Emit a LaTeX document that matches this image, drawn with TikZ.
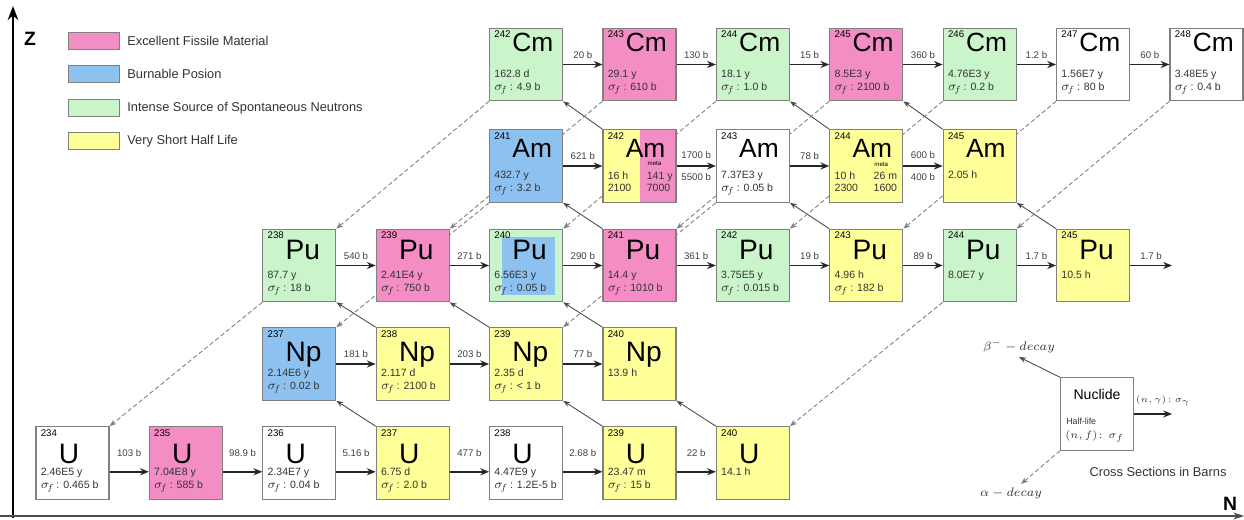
\documentclass[tikz,border=0pt]{standalone}
\usepackage{amsmath}
\usepackage{fontspec}
\setmainfont{Liberation Sans}
\usepackage{xcolor}
\usetikzlibrary{arrows.meta}

\definecolor{fissile}{RGB}{243,141,196}
\definecolor{poison}{RGB}{141,193,240}
\definecolor{spont}{RGB}{202,245,202}
\definecolor{shortlife}{RGB}{255,255,153}
\definecolor{boxedge}{RGB}{128,128,128}

\pgfdeclarelayer{background}
\pgfsetlayers{background,main}

\newcommand{\sigf}[1]{{\fontsize{7.5}{8}\selectfont$\sigma_{\!f}$}\,: #1 b}

\begin{document}
\begin{tikzpicture}[x=0.02cm, y=-0.02cm, >=Stealth,
  nuc/.style={draw=boxedge, line width=0.6pt, minimum width=1.46cm, minimum height=1.45cm, inner sep=0pt},
  fisbox/.style={fill=fissile}, poibox/.style={fill=poison}, spobox/.style={fill=spont},
  shlbox/.style={fill=shortlife}, plainbox/.style={fill=white},
  mixbox/.style={fill=spont, path picture={\fill[poison] ([shift={(12,8)}]path picture bounding box.north west) rectangle ([shift={(-8,-7)}]path picture bounding box.south east);}},
  ngamma/.style={-{Stealth[length=5pt,width=4pt]}, line width=1pt, black!85},
  betadecay/.style={-{Stealth[length=4pt,width=3pt]}, line width=0.5pt, black!70},
  alphadecay/.style={betadecay, gray, dash pattern=on 2.5pt off 1.5pt},
  xs/.style={font=\fontsize{5.5}{6}\selectfont, text=black!75, inner sep=1pt},
  massno/.style={anchor=north west, font=\fontsize{5.5}{6}\selectfont, inner sep=0pt},
  elem/.style={anchor=base west, inner sep=0pt},
  info/.style={anchor=base west, font=\fontsize{6}{7}\selectfont, text=black!80, inner sep=0pt},
  keymath/.style={font=\fontsize{7}{8}\selectfont, text=black!80, inner sep=0pt},
  legendtxt/.style={anchor=west, font=\fontsize{7.3}{8}\selectfont, text=black!80, inner sep=0pt}]

  \useasboundingbox (0,0) rectangle (1244,520);

  % Axes
  \coordinate (origin) at (13,518);
  \coordinate (ztip) at (13,6);
  \coordinate (nstart) at (0,516);
  \coordinate (ntip) at (1244,516);
  \draw[line width=1.5pt, -{Stealth[length=8pt,width=6pt]}] (origin) -- (ztip);
  \draw[line width=0.6pt, black!70, -{Stealth[length=6pt,width=4pt]}] (nstart) -- (ntip);
  \node[font=\bfseries\fontsize{11}{11}\selectfont] (zlab) at (30,39) {Z};
  \node[font=\bfseries\fontsize{11}{11}\selectfont] (nlab) at (1230,504) {N};

  % Legend
  \foreach \i/\c/\t in {0/fissile/Excellent Fissile Material, 1/poison/Burnable Posion,
                        2/spont/Intense Source of Spontaneous Neutrons, 3/shortlife/Very Short Half Life} {
    \draw[boxedge, fill=\c] (68,32+33.6*\i) rectangle (119,49+33.6*\i);
    \node[legendtxt] (leg\i) at (127,40.5+33.6*\i) {\t};
  }

  % Nuclides: symbol/mass/column/row/style/half-life/fission
  % rows: 0 = Cm, 1 = Am, 2 = Pu, 3 = Np, 4 = U
  \foreach \el/\mass/\col/\row/\fc/\hl/\sg in {
    U/234/0/4/plainbox/2.46E5 y/\sigf{0.465},
    U/235/1/4/fisbox/7.04E8 y/\sigf{585},
    U/236/2/4/plainbox/2.34E7 y/\sigf{0.04},
    U/237/3/4/shlbox/6.75 d/\sigf{2.0},
    U/238/4/4/plainbox/4.47E9 y/\sigf{1.2E-5},
    U/239/5/4/shlbox/23.47 m/\sigf{15},
    U/240/6/4/shlbox/14.1 h/{},
    Np/237/2/3/poibox/2.14E6 y/\sigf{0.02},
    Np/238/3/3/shlbox/2.117 d/\sigf{2100},
    Np/239/4/3/shlbox/2.35 d/\sigf{\textless{} 1},
    Np/240/5/3/shlbox/13.9 h/{},
    Pu/238/2/2/spobox/87.7 y/\sigf{18},
    Pu/239/3/2/fisbox/2.41E4 y/\sigf{750},
    Pu/240/4/2/mixbox/6.56E3 y/\sigf{0.05},
    Pu/241/5/2/fisbox/14.4 y/\sigf{1010},
    Pu/242/6/2/spobox/3.75E5 y/\sigf{0.015},
    Pu/243/7/2/shlbox/4.96 h/\sigf{182},
    Pu/244/8/2/spobox/8.0E7 y/{},
    Pu/245/9/2/shlbox/10.5 h/{},
    Am/241/4/1/poibox/432.7 y/\sigf{3.2},
    Am/243/6/1/plainbox/7.37E3 y/\sigf{0.05},
    Am/245/8/1/shlbox/2.05 h/{},
    Cm/242/4/0/spobox/162.8 d/\sigf{4.9},
    Cm/243/5/0/fisbox/29.1 y/\sigf{610},
    Cm/244/6/0/spobox/18.1 y/\sigf{1.0},
    Cm/245/7/0/fisbox/8.5E3 y/\sigf{2100},
    Cm/246/8/0/spobox/4.76E3 y/\sigf{0.2},
    Cm/247/9/0/plainbox/1.56E7 y/\sigf{80},
    Cm/248/10/0/plainbox/3.48E5 y/\sigf{0.4}} {
    \pgfmathsetmacro{\cx}{72.5+113.4*\col}
    \pgfmathsetmacro{\cy}{{64.5,166,265.5,364,463}[\row]}
    \pgfmathsetmacro{\symsize}{{15,15,16,16,16}[\row]}
    \pgfmathsetmacro{\symbase}{{24,28,31,34,37}[\row]}
    \node[nuc, \fc] (\el\mass) at (\cx,\cy) {};
    \node[massno] (\el\mass-a) at ([shift={(5,3)}]\el\mass.north west) {\mass};
    \node[elem, font=\fontsize{\symsize}{\symsize}\selectfont] (\el\mass-s) at ([shift={(23,\symbase)}]\el\mass.north west) {\el};
    \node[info] (\el\mass-h) at ([shift={(5,49.5)}]\el\mass.north west) {\hl};
    \node[info] (\el\mass-f) at ([shift={(5,62.5)}]\el\mass.north west) {\sg};
  }

  % Americium isomers (ground + meta)
  \node[nuc, shlbox, path picture={\fill[fissile] (path picture bounding box.north) rectangle (path picture bounding box.south east);}] (Am242) at (639.5,166) {};
  \node[massno] (Am242-a) at ([shift={(5,3)}]Am242.north west) {242};
  \node[elem, font=\fontsize{15}{15}\selectfont] (Am242-s) at ([shift={(23,28)}]Am242.north west) {Am};
  \node[font=\fontsize{3.5}{4}\selectfont, inner sep=0pt] (Am242-m) at ([shift={(52,34)}]Am242.north west) {meta};
  \node[info] (Am242-h) at ([shift={(5,50)}]Am242.north west) {16 h};
  \node[info] (Am242-hm) at ([shift={(44,50)}]Am242.north west) {141 y};
  \node[info] (Am242-f) at ([shift={(5,62)}]Am242.north west) {2100};
  \node[info] (Am242-fm) at ([shift={(44,62)}]Am242.north west) {7000};

  \node[nuc, shlbox] (Am244) at (866.3,166) {};
  \node[massno] (Am244-a) at ([shift={(5,3)}]Am244.north west) {244};
  \node[elem, font=\fontsize{15}{15}\selectfont] (Am244-s) at ([shift={(23,28)}]Am244.north west) {Am};
  \node[font=\fontsize{3.5}{4}\selectfont, inner sep=0pt] (Am244-m) at ([shift={(52,35)}]Am244.north west) {meta};
  \node[info] (Am244-h) at ([shift={(5,50)}]Am244.north west) {10 h};
  \node[info] (Am244-hm) at ([shift={(44,50)}]Am244.north west) {26 m};
  \node[info] (Am244-f) at ([shift={(5,62)}]Am244.north west) {2300};
  \node[info] (Am244-fm) at ([shift={(44,62)}]Am244.north west) {1600};

  % Neutron capture chains
  \foreach \a/\b/\v in {234/235/103 b, 235/236/98.9 b, 236/237/5.16 b, 237/238/477 b, 238/239/2.68 b, 239/240/22 b}
    \draw[ngamma] ([yshift=-5pt]U\a.east) -- ([yshift=-5pt]U\b.west) node[xs, midway, above=7pt] (xU\a) {\v};
  \foreach \el/\a/\b/\v in {Np/237/238/181 b, Np/238/239/203 b, Np/239/240/77 b,
      Pu/238/239/540 b, Pu/239/240/271 b, Pu/240/241/290 b, Pu/241/242/361 b, Pu/242/243/19 b, Pu/243/244/89 b, Pu/244/245/1.7 b,
      Am/241/242/621 b, Am/243/244/78 b,
      Cm/242/243/20 b, Cm/243/244/130 b, Cm/244/245/15 b, Cm/245/246/360 b, Cm/246/247/1.2 b, Cm/247/248/60 b}
    \draw[ngamma] (\el\a) -- (\el\b) node[xs, midway, above=2pt] (x\el\a) {\v};
  \draw[ngamma] (Am242) -- (Am243) node[xs, midway, above=2.5pt] (xAm242) {1700 b} node[xs, midway, below=2.5pt] (yAm242) {5500 b};
  \draw[ngamma] (Am244) -- (Am245) node[xs, midway, above=2.5pt] (xAm244) {600 b} node[xs, midway, below=2.5pt] (yAm244) {400 b};
  \coordinate (puout) at (1172,265.5);
  \draw[ngamma] (Pu245) -- (puout) node[xs, midway, above=2pt] (xPu245) {1.7 b};

  % Decays, behind the boxes
  \begin{pgfonlayer}{background}
    \fill[white] (0,0) rectangle (1244,520);
    \foreach \s/\t in {U237/Np237, U239/Np239, U240/Np240, Np238/Pu238, Np239/Pu239, Np240/Pu240,
                       Pu241/Am241, Pu243/Am243, Pu245/Am245, Am242/Cm242, Am244/Cm244, Am245/Cm245}
      \draw[betadecay] (\s.north west) -- (\t.south east);
    \foreach \s/\t in {Pu238/U234, Pu244/U240, Am241/Np237, Am243/Np239, Cm242/Pu238, Cm243/Pu239,
                       Cm244/Pu240, Cm245/Pu241, Cm246/Pu242, Cm247/Pu243, Cm248/Pu244}
      \draw[alphadecay] (\s.south west) -- (\t.north east);
  \end{pgfonlayer}

  % Key
  \node[nuc, plainbox] (key) at (1097,414) {};
  \node[anchor=base, font=\fontsize{8}{9}\selectfont, inner sep=0pt] (keyname) at ([shift={(0,22)}]key.north) {Nuclide};
  \node[info, font=\fontsize{5}{6}\selectfont] (keyhl) at ([shift={(6,47)}]key.north west) {Half-life};
  \node[info, font=\fontsize{6.5}{7}\selectfont] (keyfis) at ([shift={(5,61)}]key.north west) {$(n,f)\!:\,\sigma_f$};
  \coordinate (keyout) at (1172,414);
  \coordinate (betatip) at (1019,357);
  \coordinate (alphatip) at (1021,484);
  \draw[ngamma] (key) -- (keyout);
  \draw[betadecay] (key.north west) -- (betatip);
  \draw[alphadecay] (key.south west) -- (alphatip);
  \node[keymath, font=\fontsize{5.5}{6}\selectfont] (keyng) at (1163,401) {$(n,\gamma)\!:\sigma_\gamma$};
  \node[keymath] (keybeta) at (1019,346) {$\beta^{-}-decay$};
  \node[keymath] (keyalpha) at (1011,493) {$\alpha-decay$};
  \node[font=\fontsize{7.3}{8}\selectfont, text=black!80] (barns) at (1158,472) {Cross Sections in Barns};

\end{tikzpicture}
\end{document}
